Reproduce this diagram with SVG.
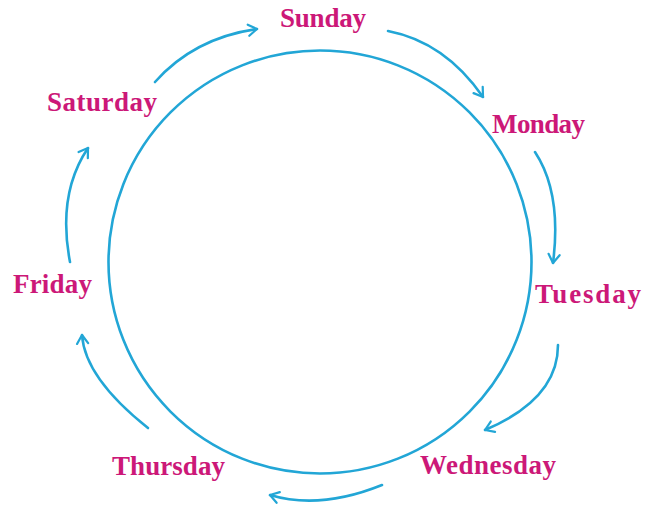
<svg xmlns="http://www.w3.org/2000/svg" width="647" height="508" viewBox="0 0 647 508">
<defs>
<style>
.lbl{font-family:"Liberation Serif","Times New Roman",serif;font-weight:bold;font-size:27px;fill:#cc1878}
.ring{fill:none;stroke:#22a6d6;stroke-width:2.6}
.arr{fill:none;stroke:#22a6d6;stroke-width:2.6;stroke-linecap:round;marker-end:url(#ah)}
</style>
<marker id="ah" markerUnits="userSpaceOnUse" markerWidth="24" markerHeight="24" viewBox="-14 -12 28 24" refX="0" refY="0" orient="auto">
<path d="M-10,-6.5 L0,0 L-10,6.5" fill="none" stroke="#22a6d6" stroke-width="2.6" stroke-linecap="round" stroke-linejoin="round"/>
</marker>
</defs>
<rect width="647" height="508" fill="#ffffff"/>
<g id="cycle">
<circle class="ring" cx="320" cy="262" r="211.5"/>
</g>
<g id="connectors">
<path class="arr" d="M155,82 Q194,38 257,29"/>
<path class="arr" d="M388,31 Q445,42 483,97"/>
<path class="arr" d="M535,152 Q562,193 553,263"/>
<path class="arr" d="M558,345 Q558,399 485,430"/>
<path class="arr" d="M382,485 Q320,510 270,495"/>
<path class="arr" d="M148,428 Q85,378 82,335"/>
<path class="arr" d="M70,262 Q57,194 88,148"/>
</g>
<g id="sunday"><text class="lbl" x="280" y="27" textLength="86" lengthAdjust="spacing">Sunday</text></g>
<g id="monday"><text class="lbl" x="492" y="133" textLength="93" lengthAdjust="spacing">Monday</text></g>
<g id="tuesday"><text class="lbl" x="535" y="303" textLength="106" lengthAdjust="spacing">Tuesday</text></g>
<g id="wednesday"><text class="lbl" x="420" y="474" textLength="136" lengthAdjust="spacing">Wednesday</text></g>
<g id="thursday"><text class="lbl" x="112" y="475" textLength="113" lengthAdjust="spacing">Thursday</text></g>
<g id="friday"><text class="lbl" x="13" y="293" textLength="79" lengthAdjust="spacing">Friday</text></g>
<g id="saturday"><text class="lbl" x="47" y="111" textLength="110" lengthAdjust="spacing">Saturday</text></g>
</svg>
